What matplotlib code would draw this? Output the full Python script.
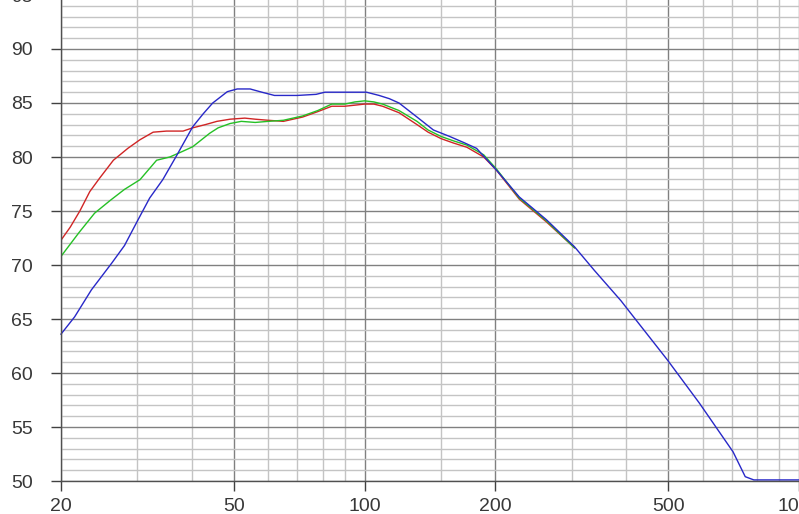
import matplotlib
matplotlib.use("Agg")
import matplotlib.pyplot as plt
from matplotlib.ticker import FixedLocator, NullFormatter

# ---- data ----
red_f = [20, 21, 22.1, 23.3, 24.5, 26.4, 28.5, 30.4, 32.6, 35, 38.2, 40.2, 43, 45.7, 49, 53, 56,
         60, 65, 72, 78, 84, 90, 95, 100, 105, 110, 120, 132, 140, 150, 160, 172, 188, 201,
         227, 262, 304]
red_db = [72.3, 73.5, 75.0, 76.8, 78.0, 79.7, 80.8, 81.6, 82.3, 82.4, 82.4, 82.7, 83.0, 83.3,
          83.5, 83.6, 83.5, 83.4, 83.3, 83.7, 84.2, 84.7, 84.7, 84.8, 84.9, 84.9, 84.7, 84.1,
          83.0, 82.3, 81.7, 81.3, 80.9, 80.0, 78.8, 76.1, 74.0, 71.6]

green_f = [20, 22, 23.9, 26, 28, 30.4, 33.2, 35.6, 38, 40.2, 44, 46, 49, 52, 56, 60, 65, 72,
           78, 84, 90, 95, 100, 105, 110, 120, 132, 140, 150, 160, 172, 188, 201, 227, 262, 304]
green_db = [70.8, 73.0, 74.8, 76.0, 77.0, 77.9, 79.7, 80.0, 80.5, 80.95, 82.2, 82.7, 83.1,
            83.3, 83.2, 83.3, 83.4, 83.8, 84.3, 84.9, 84.9, 85.1, 85.2, 85.1, 84.9, 84.3,
            83.3, 82.5, 81.9, 81.5, 81.1, 80.2, 78.9, 76.2, 74.1, 71.6]

blue_f = [20, 21.5, 23.5, 26.2, 28, 30.1, 32, 34.3, 37, 40.2, 42.5, 44.7, 48.3, 50.9, 54.5,
          58, 62, 70, 77.3, 81, 90, 101, 108, 114, 120, 132, 144, 157, 170, 181, 201,
          227, 262, 304, 338, 389, 416, 498, 590, 705, 752, 787, 1000]
blue_db = [63.6, 65.2, 67.7, 70.2, 71.8, 74.2, 76.2, 77.9, 80.2, 82.8, 84.0, 85.0, 86.05,
           86.3, 86.3, 86.0, 85.7, 85.7, 85.8, 86.0, 86.0, 86.0, 85.7, 85.4, 85.0, 83.7, 82.5,
           81.9, 81.3, 80.8, 78.8, 76.3, 74.2, 71.7, 69.5, 66.7, 65.2, 61.2, 57.2, 52.7, 50.4,
           50.1, 50.1]

x_major = [20, 50, 100, 200, 500, 1000]
x_labels = ["20", "50", "100", "200", "500", "1000"]
x_minor = [30, 40, 60, 70, 80, 90, 150, 300, 400, 600, 700, 800, 900]
y_major = [50, 55, 60, 65, 70, 75, 80, 85, 90, 95]
y_minor = [v for v in range(50, 96) if v % 5 != 0]

# ---- figure ----
W, H = 799, 514
fig = plt.figure(figsize=(W / 100, H / 100), dpi=100)
ax = fig.add_axes([61 / W, 33 / H, 738 / W, 486 / H])
ax.set_xscale("log")
ax.set_xlim(20, 1000)
ax.set_ylim(50, 95)

ax.xaxis.set_major_locator(FixedLocator(x_major))
ax.xaxis.set_minor_locator(FixedLocator(x_minor))
ax.xaxis.set_minor_formatter(NullFormatter())
ax.set_xticklabels(x_labels)
ax.yaxis.set_major_locator(FixedLocator(y_major))
ax.yaxis.set_minor_locator(FixedLocator(y_minor))

ax.grid(which="major", color="#808080", lw=1.0)
ax.grid(which="minor", color="#c4c4c4", lw=1.0)
ax.set_axisbelow(True)

for s in ["top", "right"]:
    ax.spines[s].set_visible(False)
for s in ["left", "bottom"]:
    ax.spines[s].set_color("#505050")
    ax.spines[s].set_linewidth(1.0)

ax.tick_params(which="major", axis="y", length=7, width=1, color="#404040", pad=13,
               labelsize=14, labelcolor="#383838")
ax.tick_params(which="major", axis="x", length=7, width=1, color="#404040", pad=5,
               labelsize=14, labelcolor="#383838")
ax.tick_params(which="minor", length=0)
for lab in ax.get_xticklabels() + ax.get_yticklabels():
    lab.set_family("Liberation Sans")

ax.plot(red_f, red_db, color="#d02525", lw=1.0)
ax.plot(green_f, green_db, color="#25c025", lw=1.0)
ax.plot(blue_f, blue_db, color="#2828c8", lw=1.0, clip_on=False)

fig.savefig("out.png", dpi=100)
